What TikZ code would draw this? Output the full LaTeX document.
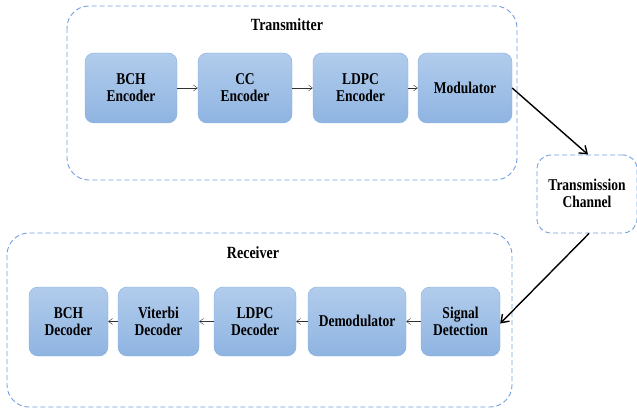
\documentclass[tikz,border=0pt]{standalone}
\usepackage{fontspec}
\setmainfont{Liberation Serif}
\usetikzlibrary{arrows.meta}
\definecolor{boxtop}{HTML}{B1CCEC}
\definecolor{boxbot}{HTML}{8FB4E1}
\definecolor{boxline}{HTML}{86AEDF}
\definecolor{grpline}{HTML}{739EE0}
% taller lettering, as in the original figure
\newcommand{\tallbox}[1]{\raisebox{-2pt}[\height][\depth]{\scalebox{1}[1.22]{\begin{tabular}{@{}c@{}}#1\end{tabular}}}}

\begin{document}
\begin{tikzpicture}[x=1pt,y=-1pt,
    block/.style={draw=boxline,rounded corners=9pt,shading=axis,top color=boxtop,bottom color=boxbot,
        align=center,inner sep=0pt,font=\fontsize{13.5}{14}\selectfont\bfseries},
    group/.style={draw=grpline,dash pattern=on 5pt off 3pt,line width=0.9pt,rounded corners=22pt},
    title/.style={font=\fontsize{14}{14}\selectfont\bfseries},
    link/.style={-{Straight Barb[length=4pt,width=6pt]},black!80,thin},
    bigarrow/.style={-{Straight Barb[length=7pt,width=10pt]},black,line width=1.4pt}]
    \useasboundingbox (0,0) rectangle (637,409);
    % transmitter side
    \draw[group] (67,6) rectangle (517,180);
    \node[title] (tx) at (287,25) {\tallbox{Transmitter}};
    \node[block,minimum width=92pt,minimum height=70pt] (bchenc) at (131,88) {\tallbox{BCH\\Encoder}};
    \node[block,minimum width=94pt,minimum height=70pt] (ccenc) at (245,88) {\tallbox{CC\\Encoder}};
    \node[block,minimum width=95pt,minimum height=70pt] (ldpcenc) at (360.5,88) {\tallbox{LDPC\\Encoder}};
    \node[block,minimum width=94pt,minimum height=70pt] (mod) at (465,88) {\tallbox{Modulator}};
    \draw[link] (bchenc) -- (ccenc);
    \draw[link] (ccenc) -- (ldpcenc);
    \draw[link] (ldpcenc) -- (mod);
    % channel
    \node[draw=grpline,dash pattern=on 5pt off 3pt,line width=0.9pt,rounded corners=14pt,minimum width=100pt,minimum height=78pt,
        align=center,font=\fontsize{13.5}{14}\selectfont\bfseries] (chan) at (587,194) {\tallbox{Transmission\\Channel}};
    % receiver side
    \draw[group] (7,233) rectangle (512,407);
    \node[title] (rx) at (253,253) {\tallbox{Receiver}};
    \node[block,minimum width=79pt,minimum height=69pt] (bchdec) at (68.5,321.5) {\tallbox{BCH\\Decoder}};
    \node[block,minimum width=81pt,minimum height=69pt] (vitdec) at (158.5,321.5) {\tallbox{Viterbi\\Decoder}};
    \node[block,minimum width=82pt,minimum height=69pt] (ldpcdec) at (255,321.5) {\tallbox{LDPC\\Decoder}};
    \node[block,minimum width=98pt,minimum height=69pt] (demod) at (357,321.5) {\tallbox{Demodulator}};
    \node[block,minimum width=79pt,minimum height=69pt] (sigdet) at (460.5,321.5) {\tallbox{Signal\\Detection}};
    \draw[link] (sigdet) -- (demod);
    \draw[link] (demod) -- (ldpcdec);
    \draw[link] (ldpcdec) -- (vitdec);
    \draw[link] (vitdec) -- (bchdec);
    % channel links
    \draw[bigarrow] (mod.east) -- ([xshift=1pt]chan.north);
    \draw[bigarrow] ([xshift=2pt]chan.south) -- ([yshift=-2pt]sigdet.east);
\end{tikzpicture}
\end{document}
